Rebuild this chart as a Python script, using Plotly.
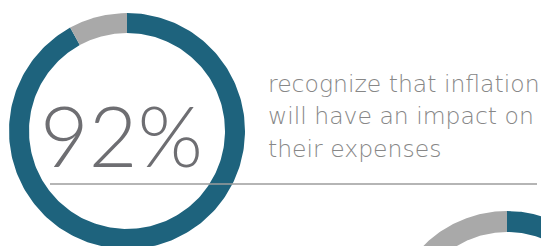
import numpy as np
import plotly.graph_objects as go

# ---- data ----
segment_names = ["Agree", "Other"]
donut1_values = [92, 8]
donut2_values = [57, 43]
headline = "92%"
caption_lines = ["recognize that inflation", "will have an impact on", "their expenses"]

TEAL = "#1e637d"
GREY = "#a9a9a9"
colors = [TEAL, GREY]

W, H = 541, 246
fig = go.Figure()


def ring_segment(cx, cy, r_out, r_in, t0, t1, n=240):
    # t in fraction of full circle, clockwise from 12 o'clock (y axis points down)
    t = np.linspace(t0, t1, n)
    th = 2 * np.pi * t
    xo = cx + r_out * np.sin(th)
    yo = cy - r_out * np.cos(th)
    xi = cx + r_in * np.sin(th[::-1])
    yi = cy - r_in * np.cos(th[::-1])
    return np.concatenate([xo, xi, xo[:1]]), np.concatenate([yo, yi, yo[:1]])


def add_donut(values, cx, cy, r_out, r_in):
    total = float(sum(values))
    start = 0.0
    for name, v, c in zip(segment_names, values, colors):
        frac = v / total
        x, y = ring_segment(cx, cy, r_out, r_in, start, start + frac)
        fig.add_trace(go.Scatter(x=x, y=y, mode="lines", fill="toself",
                                 fillcolor=c, line=dict(width=0, color=c),
                                 hoverinfo="skip", name=name, showlegend=False))
        start += frac


add_donut(donut1_values, 127, 131, 118, 98)
add_donut(donut2_values, 507, 329, 118, 97)

fig.add_annotation(x=121, y=134, text=headline, showarrow=False,
                   xanchor="center", yanchor="middle",
                   font=dict(family="Lato", size=84, color="#6e6e72", weight=300))

line_y = [83.5, 116, 148.5]
for txt, yy in zip(caption_lines, line_y):
    fig.add_annotation(x=266, y=yy, text=txt, showarrow=False,
                       xanchor="left", yanchor="middle",
                       font=dict(family="DejaVu Sans", size=23.5, color="#878787", weight=200))

fig.add_shape(type="line", x0=50, x1=537, y0=184, y1=184,
              line=dict(color="#9c9c9c", width=1.5), layer="above")

fig.update_xaxes(range=[0, W], visible=False, fixedrange=True)
fig.update_yaxes(range=[H, 0], visible=False, fixedrange=True)
fig.update_layout(width=W, height=H, margin=dict(l=0, r=0, t=0, b=0),
                  paper_bgcolor="white", plot_bgcolor="white", showlegend=False)

fig.write_html("out.html", config={"displayModeBar": False},
               post_script="document.body.style.margin='0';document.body.style.overflow='hidden';")
